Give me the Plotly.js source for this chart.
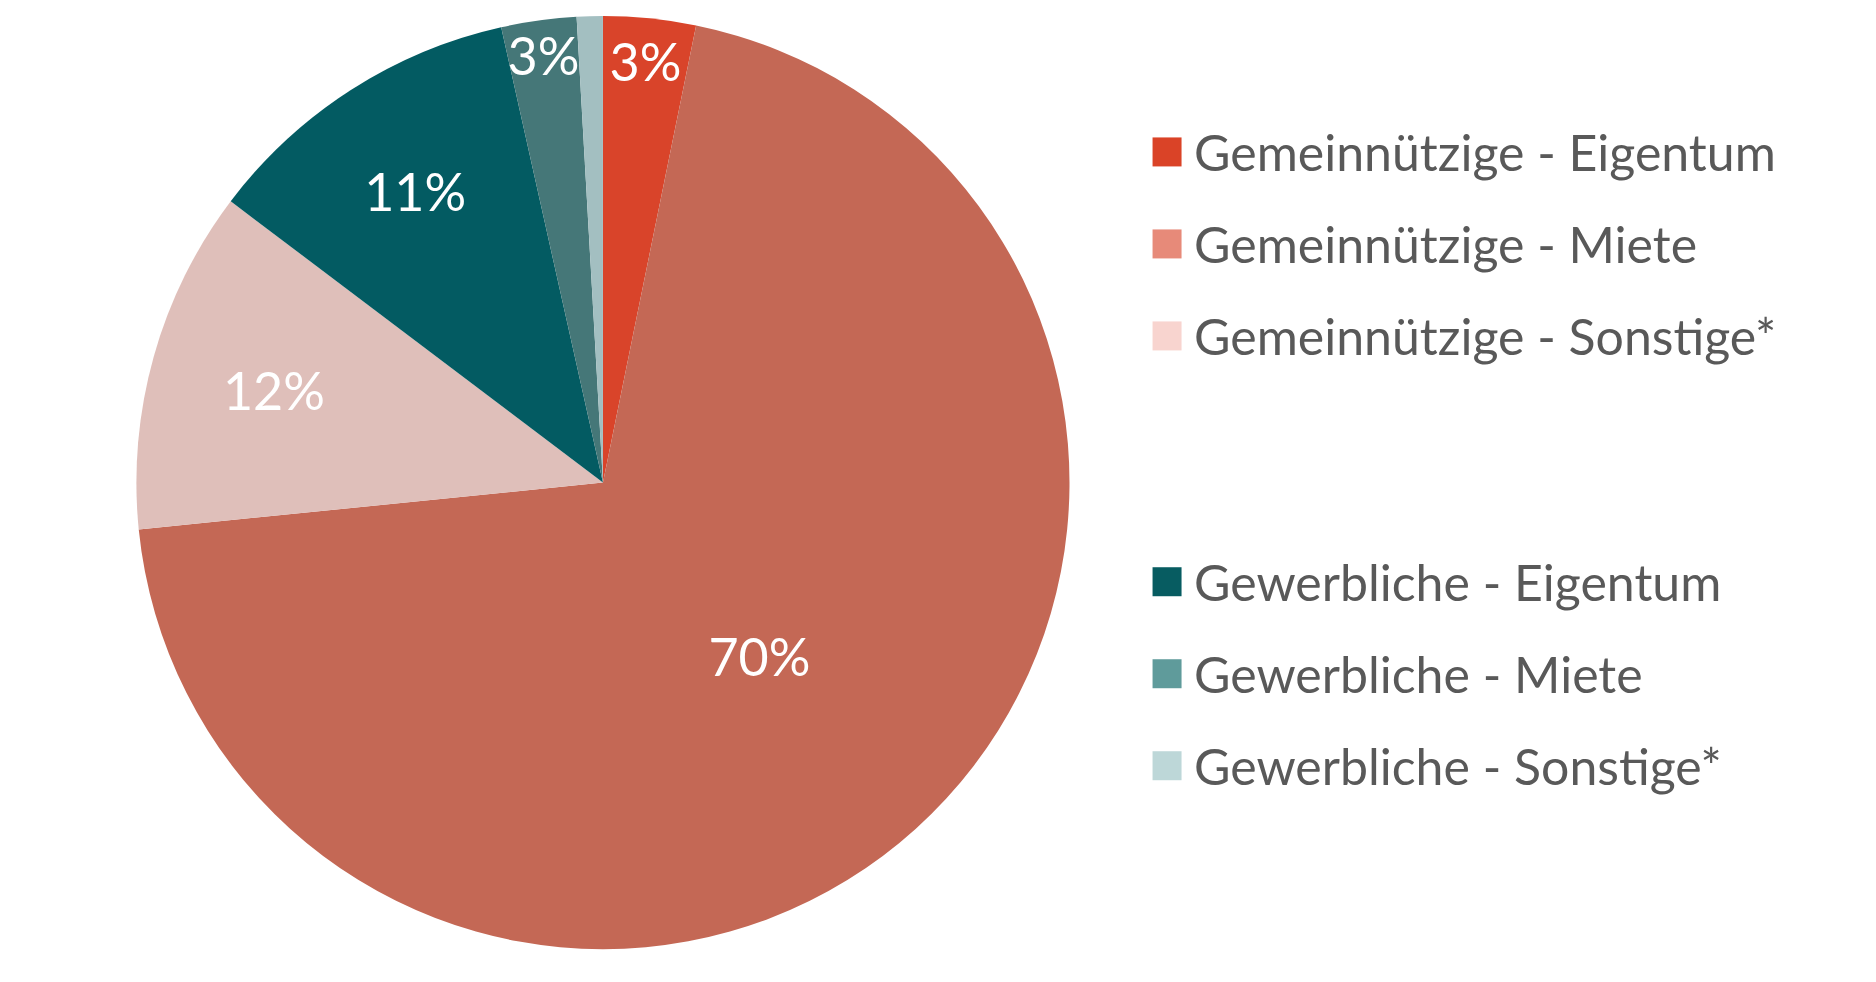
<!DOCTYPE html>
<html>
<head>
<meta charset="utf-8">
<script src="https://cdn.plot.ly/plotly-3.0.1.min.js"></script>
<style>
  html, body { margin: 0; padding: 0; background: #ffffff; }
  #chart { width: 1876px; height: 982px; }
</style>
</head>
<body>
<div id="chart"></div>
<script>
// ---- data ----
const categories = [
  'Gemeinnützige - Eigentum',
  'Gemeinnützige - Miete',
  'Gemeinnützige - Sonstige*',
  'Gewerbliche - Eigentum',
  'Gewerbliche - Miete',
  'Gewerbliche - Sonstige*'
];
const groups = ['gem', 'gem', 'gem', 'gew', 'gew', 'gew'];
const shares = [3.2, 70.2, 11.9, 11.2, 2.6, 0.9];
const sliceLabels = ['3%', '70%', '12%', '11%', '3%', ''];
const sliceColors = ['#D9442A', '#C46855', '#DFBFBA', '#035B62', '#457778', '#A3BFC1'];
const legendColors = ['#DA4327', '#E78A79', '#F8D4CF', '#075C61', '#5F9B9B', '#BDD7D8'];

// ---- traces ----
const pieTrace = {
  type: 'pie',
  labels: categories,
  values: shares,
  text: sliceLabels,
  textinfo: 'text',
  textposition: 'inside',
  insidetextorientation: 'horizontal',
  insidetextfont: { family: 'Lato, sans-serif', size: 52, color: '#ffffff' },
  sort: false,
  direction: 'clockwise',
  rotation: 0,
  marker: { colors: sliceColors, line: { width: 0 } },
  domain: { x: [0.0727, 0.5701], y: [0.0334, 0.9837] },
  showlegend: false,
  hoverinfo: 'label+percent'
};

const legendTraces = categories.map((name, i) => {
  const t = {
    type: 'scatter',
    mode: 'markers',
    x: [null],
    y: [null],
    name: name,
    legendgroup: 'item' + i,
    marker: { symbol: 'square', size: 16, color: legendColors[i], line: { width: 0 } },
    hoverinfo: 'skip',
    showlegend: true
  };
  if (i > 0 && groups[i] !== groups[i - 1]) {
    t.legendgrouptitle = { text: ' ', font: { size: 116, family: 'Lato, sans-serif' } };
  }
  return t;
});

const layout = {
  width: 1876,
  height: 982,
  margin: { l: 0, r: 0, t: 0, b: 0 },
  paper_bgcolor: '#ffffff',
  plot_bgcolor: '#ffffff',
  xaxis: { visible: false },
  yaxis: { visible: false },
  uniformtext: { mode: 'show', minsize: 52 },
  showlegend: true,
  legend: {
    x: 0.6077,
    xanchor: 'left',
    y: 0.885,
    yanchor: 'top',
    traceorder: 'grouped',
    tracegroupgap: 24,
    itemwidth: 44,
    font: { family: 'Lato, sans-serif', size: 50, color: '#595959' },
    bgcolor: 'rgba(0,0,0,0)',
    borderwidth: 0
  }
};

Plotly.newPlot('chart', [pieTrace].concat(legendTraces), layout, { displayModeBar: false, staticPlot: true })
  .then(function (gd) {
    const scale = 29 / 16;
    gd.querySelectorAll('.legend .legendpoints path').forEach(function (p) {
      const tr = p.getAttribute('transform') || '';
      p.setAttribute('transform', tr + ' scale(' + scale + ')');
    });
  });
</script>
</body>
</html>
